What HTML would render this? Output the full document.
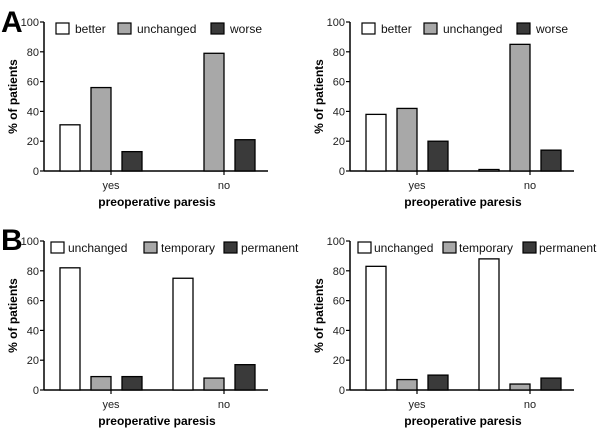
<!DOCTYPE html>
<html><head><meta charset="utf-8"><style>
body{margin:0;background:#fff;width:600px;height:431px;overflow:hidden;font-family:"Liberation Sans",sans-serif}
svg text{font-family:"Liberation Sans",sans-serif}
</style></head><body>
<svg id="c" width="600" height="431">
<text x="1" y="32" font-size="30" font-weight="bold">A</text>
<text x="1" y="250" font-size="30" font-weight="bold">B</text>
</svg>
<script>
const categories = ["yes","no"];
const yTicks = [0,20,40,60,80,100];
const seriesA = ["better","unchanged","worse"];
const seriesB = ["unchanged","temporary","permanent"];
const a1Yes = [31,56,13], a1No = [0,79,21];
const a2Yes = [38,42,20], a2No = [1,85,14];
const b1Yes = [82,9,9],  b1No = [75,8,17];
const b2Yes = [83,7,10], b2No = [88,4,8];
const fills = ["#ffffff","#a8a8a8","#3a3a3a"];
const NS="http://www.w3.org/2000/svg";
const svg=document.getElementById('c');
function mk(t,a,p){const e=document.createElementNS(NS,t);for(const k in a)e.setAttribute(k,a[k]);(p||svg).appendChild(e);return e;}
function panel(name,ox,y0,y100,series,vals,legX,tOff){
  const g=mk('g',{});
  
  
  const ax=ox, xEnd=ox+224;
  const y=v=>y0-(y0-y100)*v/100;
  const yl=mk('line',{x1:ax,y1:y100,x2:ax,y2:y0,stroke:'#000','stroke-width':1.5},g);
  
  
  const xl=mk('line',{x1:ax,y1:y0,x2:xEnd,y2:y0,stroke:'#000','stroke-width':1.5},g);
  
  
  yTicks.forEach(t=>{
    mk('line',{x1:ax-4,y1:y(t),x2:ax,y2:y(t),stroke:'#000','stroke-width':1.2},g);
    const tx=mk('text',{x:ax-5,y:y(t)+4,'font-size':11,'text-anchor':'end',fill:'#222'},g);
    tx.textContent=t;
    
    
  });
  const groupStart=[ax+16,ax+129];
  categories.forEach((c,ci)=>{
    const cx=groupStart[ci]+51;
    mk('line',{x1:cx,y1:y0,x2:cx,y2:y0+4,stroke:'#000','stroke-width':1.2},g);
    const tx=mk('text',{x:cx,y:y0+18,'font-size':11,'text-anchor':'middle',fill:'#222'},g);
    tx.textContent=c;
    
    
    vals[ci].forEach((v,si)=>{
      if(v<=0)return;
      const bx=groupStart[ci]+si*31;
      const r=mk('rect',{x:bx,y:y(v),width:20,height:y0-y(v),fill:fills[si],stroke:'#000','stroke-width':1.3},g);
      
      
    });
  });
  const yt=mk('text',{x:0,y:0,'font-size':12,'font-weight':'bold','text-anchor':'middle',transform:`translate(${ax-27},${(y0+y100)/2}) rotate(-90)`},g);
  yt.textContent='% of patients';
  
  
  const xt=mk('text',{x:ax+113,y:y0+35,'font-size':12,'font-weight':'bold','text-anchor':'middle'},g);
  xt.textContent='preoperative paresis';
  
  
  series.forEach((s,si)=>{
    const lx=ox+legX[si];
    const r=mk('rect',{x:lx,y:y100+1,width:13,height:11,fill:fills[si],stroke:'#000','stroke-width':1.2},g);
    
    
    const t=mk('text',{x:lx+tOff,y:y100+11,'font-size':12,fill:'#111'},g);
    t.textContent=s;
    
    
  });
}
panel('chart-a-left',44,171,22,seriesA,[a1Yes,a1No],[12,74,167],19);
panel('chart-a-right',350,171,22,seriesA,[a2Yes,a2No],[12,74,167],19);
panel('chart-b-left',44,390,241,seriesB,[b1Yes,b1No],[7,100,180],17);
panel('chart-b-right',350,390,241,seriesB,[b2Yes,b2No],[8,93,173],16);
</script>
</body></html>
